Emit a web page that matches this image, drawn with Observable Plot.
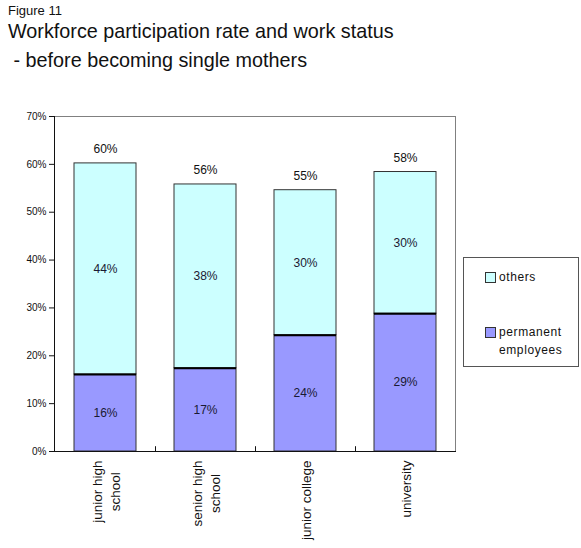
<!DOCTYPE html>
<html>
<head>
<meta charset="utf-8">
<script src="https://cdn.jsdelivr.net/npm/d3@7"></script>
<script src="https://cdn.jsdelivr.net/npm/@observablehq/plot@0.6"></script>
<style>
  body { margin: 0; background: #fff; font-family: "Liberation Sans", Arial, sans-serif; }
  #wrap { position: relative; width: 581px; height: 548px; overflow: hidden; }
  #header { position: relative; height: 100px; }
  .t { position: absolute; white-space: pre; color: #111; }
  #legend { position: absolute; left: 463px; top: 257px; width: 116px; height: 110px; border: 1px solid #555; box-sizing: border-box; font-size: 12px; letter-spacing: 0.6px; color: #111; }
  .sw { position: absolute; width: 9px; height: 9px; border: 1px solid #333; }
  .lt { position: absolute; white-space: pre; line-height: 18px; }
</style>
</head>
<body>
<div id="wrap">
  <div id="header">
    <div class="t" style="left:8px; top:4px; font-size:13px; line-height:13px;">Figure 11</div>
    <div class="t" style="left:8px; top:22px; font-size:19.8px; line-height:19.8px;">Workforce participation rate and work status</div>
    <div class="t" style="left:8px; top:51px; font-size:19.8px; line-height:19.8px;"> - before becoming single mothers</div>
  </div>
  <div id="chart"></div>
  <div id="legend"></div>
</div>
<script>
const categories = ["junior high school", "senior high school", "junior college", "university"];
const categoryLabels = ["junior high\nschool", "senior high\nschool", "junior college", "university"];
const permanent = [16.1, 17.4, 24.3, 28.8];
const others = [44.1, 38.4, 30.3, 29.6];
const seriesNames = ["permanent employees", "others"];
const seriesColors = ["#9999FF", "#CCFFFF"];
const yTicks = [0, 10, 20, 30, 40, 50, 60, 70];

const rows = [];
categories.forEach((c, i) => {
  rows.push({cat: c, series: seriesNames[0], y1: 0, y2: permanent[i], v: permanent[i]});
  rows.push({cat: c, series: seriesNames[1], y1: permanent[i], y2: permanent[i] + others[i], v: others[i]});
});
const totals = categories.map((c, i) => ({cat: c, total: permanent[i] + others[i]}));
const labelOf = new Map(categories.map((c, i) => [c, categoryLabels[i]]));

const chart = Plot.plot({
  width: 581,
  height: 448,
  marginLeft: 54,
  marginRight: 126,
  marginTop: 16,
  marginBottom: 97,
  style: {fontFamily: "'Liberation Sans', Arial, sans-serif", background: "#fff"},
  x: {domain: categories, paddingInner: 0.38, paddingOuter: 0.19, axis: null},
  y: {domain: [0, 70], axis: null},
  color: {domain: seriesNames, range: seriesColors},
  marks: [
    Plot.frame({stroke: "#808080"}),
    Plot.rectY(rows, {x: "cat", y1: "y1", y2: "y2", fill: "series", stroke: "#333", strokeWidth: 1}),
    Plot.tickY(rows.filter(d => d.series === seriesNames[0]), {x: "cat", y: "y2", stroke: "#000", strokeWidth: 2}),
    Plot.text(rows, {x: "cat", y: d => (d.y1 + d.y2) / 2, text: d => Math.round(d.v) + "%", fontSize: 12, fill: "#1a1a33", letterSpacing: 0.5}),
    Plot.text(totals, {x: "cat", y: "total", dy: -14, text: d => Math.round(d.total) + "%", fontSize: 12, fill: "#111", letterSpacing: 0.5}),
    Plot.frame({anchor: "left", stroke: "#111"}),
    Plot.frame({anchor: "bottom", stroke: "#111"}),
    Plot.ruleX(categories.slice(0, 3), {x: d => d, dx: 50, y1: 0, y2: 1, stroke: "#111"}),
    Plot.axisY({ticks: yTicks, tickFormat: d => d + "%", tickSize: 5, fontSize: 10, stroke: "#111", fill: "#111", tickPadding: 3, letterSpacing: -0.5}),
    Plot.text(categories, {x: d => d, y: 0, dy: 9, text: d => labelOf.get(d), rotate: -90, textAnchor: "end", lineAnchor: "middle", lineHeight: 1.35, fontSize: 13.5, fill: "#111", letterSpacing: 0.45, className: "xlab"})
  ]
});
document.getElementById("chart").appendChild(chart);

// Center the lines of each rotated category label within its block (top-aligned block)
chart.querySelectorAll("g.xlab text, .xlab text").forEach(t => {
  const spans = t.querySelectorAll("tspan");
  if (spans.length < 2) return;
  const widths = Array.from(spans, s => s.getComputedTextLength());
  const w = Math.max(...widths);
  t.setAttribute("text-anchor", "middle");
  spans.forEach(s => s.setAttribute("text-anchor", "middle"));
  t.setAttribute("transform", (t.getAttribute("transform") || "") + ` translate(${-w / 2},0)`);
});

const legend = document.getElementById("legend");
const legendItems = [
  {color: seriesColors[1], text: "others", top: 14},
  {color: seriesColors[0], text: "permanent\nemployees", top: 69}
];
legendItems.forEach(it => {
  const sw = document.createElement("div");
  sw.className = "sw";
  sw.style.left = "21px";
  sw.style.top = it.top + "px";
  sw.style.background = it.color;
  legend.appendChild(sw);
  const t = document.createElement("div");
  t.className = "lt";
  t.style.left = "35px";
  t.style.top = (it.top - 4) + "px";
  t.textContent = it.text;
  legend.appendChild(t);
});
</script>
</body>
</html>
